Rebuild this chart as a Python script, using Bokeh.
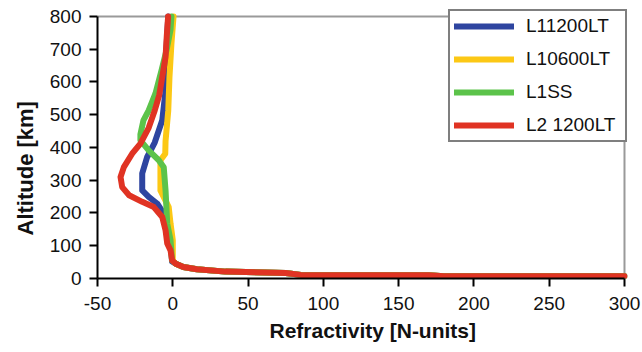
from bokeh.plotting import figure
from bokeh.models import Range1d, Legend, LegendItem, FixedTicker, Title
from bokeh.embed import file_html
from bokeh.resources import INLINE

# Refractivity [N-units] vs altitude [km]
tail_x = [2, 7, 16, 35, 75, 85, 170, 180, 300]
tail_y = [45, 35, 28, 21, 17, 11, 10, 7, 7]

blue_x = [-3.0, -4.5, -5.0, -5.0, -7.0, -12.0, -17.0, -20.3, -20.3, -16.0, -10.4, -6.0, -4.0, -3.0, -1.0, -0.5] + tail_x
blue_y = [800, 680, 600, 565, 483, 415, 371, 321, 269, 249, 229, 198, 170, 120, 90, 52] + tail_y

yellow_x = [0.5, -0.9, -2.2, -3.0, -4.8, -5.0, -8.2, -8.2, -2.7, -1.5, 0.0, 0.0] + tail_x
yellow_y = [800, 717, 615, 513, 420, 381, 361, 269, 218, 168, 117, 55] + tail_y

green_x = [-0.9, -1.5, -4.0, -7.5, -11.5, -16.0, -19.5, -21.5, -21.5, -16.0, -9.3, -6.0, -4.8, -3.7, -1.5, -0.5] + tail_x
green_y = [800, 760, 700, 635, 565, 513, 483, 440, 422, 391, 361, 340, 269, 168, 117, 55] + tail_y

red_x = [-3.1, -4.0, -4.8, -7.0, -9.0, -12.0, -16.0, -21.5, -27.0, -32.5, -34.7, -33.6, -29.0, -20.3, -12.6, -7.0, -4.8, -3.7, -1.5, -0.4] + tail_x
red_y = [800, 740, 676, 615, 560, 513, 460, 412, 381, 340, 310, 279, 254, 234, 218, 188, 147, 107, 86, 55] + tail_y

series = [
    ("L11200LT", blue_x, blue_y, "#2e45a0"),
    ("L10600LT", yellow_x, yellow_y, "#fcc815"),
    ("L1SS", green_x, green_y, "#5cc34a"),
    ("L2 1200LT", red_x, red_y, "#e03323"),
]

x_ticks = [-50, 0, 50, 100, 150, 200, 250, 300]
y_ticks = [0, 100, 200, 300, 400, 500, 600, 700, 800]

p = figure(width=642, height=352, output_backend="svg", toolbar_location=None,
           x_range=Range1d(-50, 302), y_range=Range1d(0, 821.3),
           min_border_left=97, min_border_right=15, min_border_top=9, min_border_bottom=74)

p.xgrid.visible = False
p.ygrid.visible = False
p.outline_line_color = None
p.background_fill_color = "white"
p.border_fill_color = "white"

# gray top and right border of the plot box
p.segment(x0=[x_ticks[0], x_ticks[-1]], y0=[y_ticks[-1], y_ticks[0]],
          x1=[x_ticks[-1], x_ticks[-1]], y1=[y_ticks[-1], y_ticks[-1]],
          line_color="#9a9a9a", line_width=2)

items = []
for name, xs, ys, col in series:
    r = p.line(xs, ys, line_color=col, line_width=6, line_join="round", line_cap="round")
    items.append(LegendItem(label=name, renderers=[r]))

for ax in (p.xaxis[0], p.yaxis[0]):
    ax.axis_line_color = "black"
    ax.axis_line_width = 2
    ax.major_tick_line_color = "black"
    ax.major_tick_line_width = 2
    ax.major_tick_out = 8
    ax.major_tick_in = 0
    ax.minor_tick_line_color = None
    ax.major_label_text_font = "Liberation Sans"
    ax.major_label_text_font_size = "19px"
    ax.major_label_text_color = "#111111"
    ax.major_label_standoff = 8

p.xaxis[0].major_label_standoff = 10
p.xaxis[0].ticker = FixedTicker(ticks=x_ticks)
p.yaxis[0].ticker = FixedTicker(ticks=y_ticks)
p.xaxis[0].bounds = (x_ticks[0], x_ticks[-1])
p.yaxis[0].bounds = (y_ticks[0], y_ticks[-1])
p.xaxis[0].major_label_overrides = {t: str(t) for t in x_ticks}

xt = Title(text="Refractivity [N-units]", align="left", offset=172, standoff=8,
           text_font="Liberation Sans", text_font_style="bold", text_font_size="21px",
           text_color="#111111")
p.add_layout(xt, "below")
yt = Title(text="Altitude [km]", align="left", offset=43, standoff=18,
           text_font="Liberation Sans", text_font_style="bold", text_font_size="22px",
           text_color="#111111")
p.add_layout(yt, "left")

legend = Legend(items=items, location="top_right")
legend.border_line_color = "black"
legend.border_line_width = 2
legend.glyph_width = 60
legend.glyph_height = 20
legend.label_height = 20
legend.label_width = 95
legend.spacing = 11
legend.padding = 4
legend.margin = 0
legend.label_standoff = 12
legend.label_text_font = "Liberation Sans"
legend.label_text_font_size = "19px"
legend.label_text_color = "#111111"
legend.background_fill_alpha = 1.0
p.add_layout(legend, "center")

open("out.html", "w").write(file_html(p, INLINE))
